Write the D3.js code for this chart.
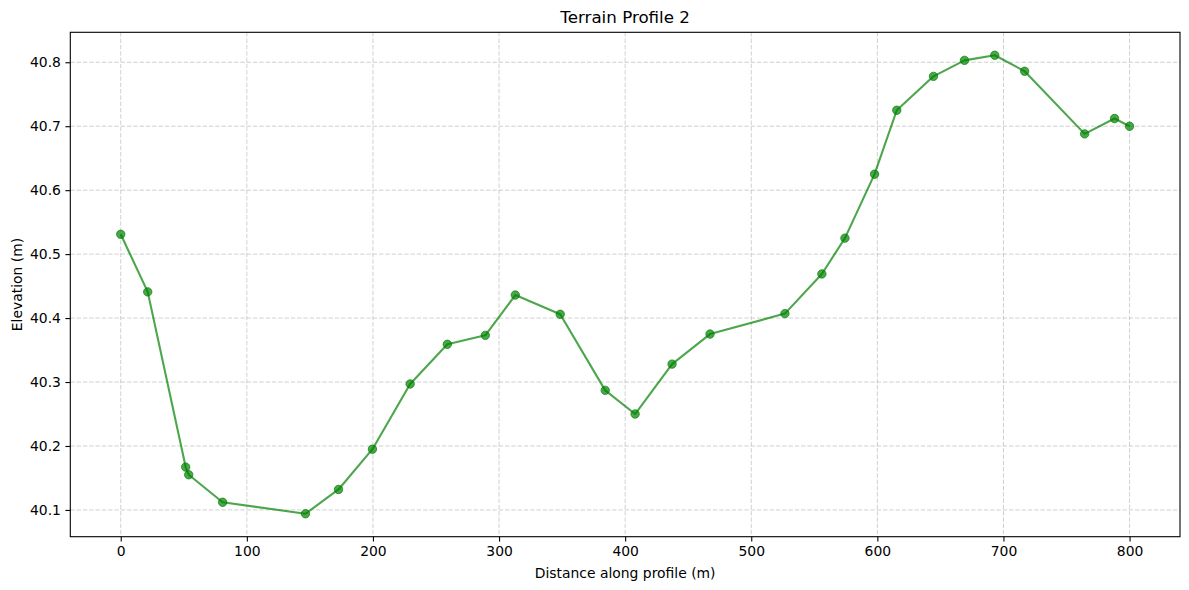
<!DOCTYPE html>
<html>
<head>
<meta charset="utf-8">
<script src="https://cdnjs.cloudflare.com/ajax/libs/d3/7.8.5/d3.min.js"></script>
<style>
  body { margin: 0; background: #fff; }
  svg text { font-family: "DejaVu Sans", sans-serif; fill: #000; }
</style>
</head>
<body>
<div id="chart"></div>
<script>
// distance along profile (m)
const distance = [0, 21.4, 51.5, 53.9, 80.8, 146.5, 172.7, 199.6, 229.5, 259.0,
    289.1, 312.9, 348.5, 384.2, 407.9, 437.2, 467.3, 526.7, 556.0, 574.3,
    597.8, 615.4, 644.5, 669.1, 693.1, 716.8, 764.4, 788.1, 800];
// elevation (m)
const elevation = [40.531, 40.441, 40.167, 40.155, 40.112, 40.094, 40.132, 40.195, 40.297, 40.359,
    40.373, 40.436, 40.406, 40.287, 40.250, 40.328, 40.375, 40.407, 40.469, 40.525,
    40.625, 40.725, 40.778, 40.803, 40.811, 40.786, 40.688, 40.712, 40.700];
const xTicks = [0, 100, 200, 300, 400, 500, 600, 700, 800];
const yTicks = [40.1, 40.2, 40.3, 40.4, 40.5, 40.6, 40.7, 40.8];

const data = distance.map((d, i) => ({dist: d, elev: elevation[i]}));

const W = 1189, H = 590;
const margin = {top: 32.3, right: 9, bottom: 53.3, left: 70.3};
const width = W - margin.left - margin.right;
const height = H - margin.top - margin.bottom;

const svg = d3.select("#chart").append("svg")
    .attr("width", W)
    .attr("height", H);

const g = svg.append("g")
    .attr("transform", "translate(" + margin.left + "," + margin.top + ")");

// scales with matplotlib-like 5% padding
const xExt = d3.extent(distance), yExt = d3.extent(elevation);
const xPad = (xExt[1] - xExt[0]) * 0.05, yPad = (yExt[1] - yExt[0]) * 0.05;
const x = d3.scaleLinear().domain([xExt[0] - xPad, xExt[1] + xPad]).range([0, width]);
const y = d3.scaleLinear().domain([yExt[0] - yPad, yExt[1] + yPad]).range([height, 0]);

// grid
const grid = g.append("g").attr("class", "grid");
grid.selectAll(".gx").data(xTicks).enter().append("line")
    .attr("x1", d => x(d)).attr("x2", d => x(d))
    .attr("y1", 0).attr("y2", height);
grid.selectAll(".gy").data(yTicks).enter().append("line")
    .attr("x1", 0).attr("x2", width)
    .attr("y1", d => y(d)).attr("y2", d => y(d));
grid.selectAll("line")
    .attr("stroke", "#b0b0b0")
    .attr("stroke-opacity", 0.6)
    .attr("stroke-width", 1)
    .attr("stroke-dasharray", "4.4,1.9");

// axes
const xAxis = g.append("g")
    .attr("transform", "translate(0," + height + ")")
    .call(d3.axisBottom(x).tickValues(xTicks).tickFormat(d3.format("d")).tickSizeOuter(0).tickSize(4.9).tickPadding(4.5));
const yAxis = g.append("g")
    .call(d3.axisLeft(y).tickValues(yTicks).tickFormat(d3.format(".1f")).tickSizeOuter(0).tickSize(4.9).tickPadding(4.5));
[xAxis, yAxis].forEach(a => {
    a.select(".domain").remove();
    a.selectAll("text").style("font-size", "13.9px").attr("fill", "#000");
    a.selectAll("line").attr("stroke", "#000").attr("stroke-width", 1.1);
});

// frame
g.append("rect")
    .attr("width", width).attr("height", height)
    .attr("fill", "none").attr("stroke", "#000").attr("stroke-width", 1.1);

// line
const line = d3.line().x(d => x(d.dist)).y(d => y(d.elev));
g.append("path")
    .datum(data)
    .attr("d", line)
    .attr("fill", "none")
    .attr("stroke", "green")
    .attr("stroke-opacity", 0.7)
    .attr("stroke-width", 2.1)
    .attr("stroke-linejoin", "round");

// markers
g.selectAll(".pt").data(data).enter().append("circle")
    .attr("class", "pt")
    .attr("cx", d => x(d.dist))
    .attr("cy", d => y(d.elev))
    .attr("r", 4.2)
    .attr("fill", "green")
    .attr("fill-opacity", 0.7)
    .attr("stroke", "green")
    .attr("stroke-opacity", 0.7)
    .attr("stroke-width", 1);

// title and labels
svg.append("text")
    .attr("x", margin.left + width / 2)
    .attr("y", 23)
    .attr("text-anchor", "middle")
    .style("font-size", "16.7px")
    .text("Terrain Profile 2");

svg.append("text")
    .attr("x", margin.left + width / 2)
    .attr("y", 578)
    .attr("text-anchor", "middle")
    .style("font-size", "13.9px")
    .text("Distance along profile (m)");

svg.append("text")
    .attr("transform", "translate(22," + (margin.top + height / 2) + ") rotate(-90)")
    .attr("text-anchor", "middle")
    .style("font-size", "13.9px")
    .text("Elevation (m)");
</script>
</body>
</html>
